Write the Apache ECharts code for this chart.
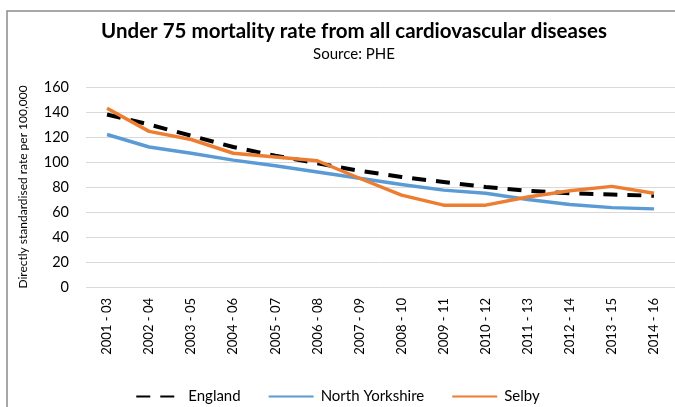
<!DOCTYPE html>
<html>
<head>
<meta charset="utf-8">
<style>
    html,body{margin:0;padding:0;background:#fff;}
    #chart{width:675px;height:407px;}
</style>
<script src="https://cdn.jsdelivr.net/npm/echarts@6/dist/echarts.min.js"></script>
</head>
<body>
<div id="chart"></div>
<script>
    // periods (3-year pooled)
    var periods = ['2001 - 03', '2002 - 04', '2003 - 05', '2004 - 06', '2005 - 07', '2006 - 08', '2007 - 09',
        '2008 - 10', '2009 - 11', '2010 - 12', '2011 - 13', '2012 - 14', '2013 - 15', '2014 - 16'];
    // rates
    var england = [138, 130, 121, 112, 105, 99, 93, 88, 84, 80, 77, 75, 74, 73];
    var northYorkshire = [122, 112, 107, 101.5, 97, 92, 87, 82, 77.5, 75, 70, 66, 63.5, 62.5];
    var selby = [143, 124.5, 118, 107, 104, 101, 87, 73.5, 65.5, 65.5, 72, 77, 80.5, 75];

    var font = 'Lato';

    var option = {
        animation: false,
        textStyle: {fontFamily: font},
        title: {
            text: 'Under 75 mortality rate from all cardiovascular diseases',
            subtext: 'Source: PHE',
            left: 349,
            textAlign: 'center',
            top: 16,
            itemGap: 5,
            textStyle: {fontSize: 20.5, fontWeight: 'bold', color: '#000', fontFamily: font},
            subtextStyle: {fontSize: 15, color: '#000', fontFamily: font}
        },
        graphic: [{
            type: 'rect',
            shape: {x: 7, y: 11, width: 700, height: 420},
            style: {fill: 'none', stroke: '#8c8c8c', lineWidth: 1.5},
            silent: true
        }],
        grid: {left: 86, right: 0, top: 87, bottom: 120},
        legend: {
            bottom: -2,
            left: 'center',
            itemWidth: 45,
            itemHeight: 10,
            itemGap: 27,
            itemStyle: {opacity: 0},
            textStyle: {fontSize: 15, color: '#000', fontFamily: font, padding: [0, 0, 0, 2]},
            data: ['England', 'North Yorkshire', 'Selby']
        },
        xAxis: {
            type: 'category',
            data: periods,
            boundaryGap: true,
            axisLine: {show: false},
            axisTick: {show: false},
            axisLabel: {rotate: 90, fontSize: 13, color: '#000', margin: 11, interval: 0}
        },
        yAxis: {
            type: 'value',
            min: 0,
            max: 160,
            interval: 20,
            name: 'Directly standardised rate per 100,000',
            nameLocation: 'middle',
            nameGap: 57,
            nameTextStyle: {fontSize: 12, color: '#000'},
            axisLabel: {fontSize: 14.5, color: '#000', margin: 17},
            splitLine: {lineStyle: {color: '#d9d9d9', width: 1}}
        },
        series: [{
            name: 'England',
            type: 'line',
            data: england,
            symbol: 'none',
            lineStyle: {color: '#000', width: 4, type: [14, 10]},
            itemStyle: {color: '#000'},
            z: 3
        }, {
            name: 'North Yorkshire',
            type: 'line',
            data: northYorkshire,
            symbol: 'none',
            lineStyle: {color: '#5b9bd5', width: 3.5},
            itemStyle: {color: '#5b9bd5'}
        }, {
            name: 'Selby',
            type: 'line',
            data: selby,
            symbol: 'none',
            lineStyle: {color: '#ed7d31', width: 3.5},
            itemStyle: {color: '#ed7d31'},
            z: 4
        }]
    };

    echarts.init(document.getElementById('chart')).setOption(option);
</script>
</body>
</html>
